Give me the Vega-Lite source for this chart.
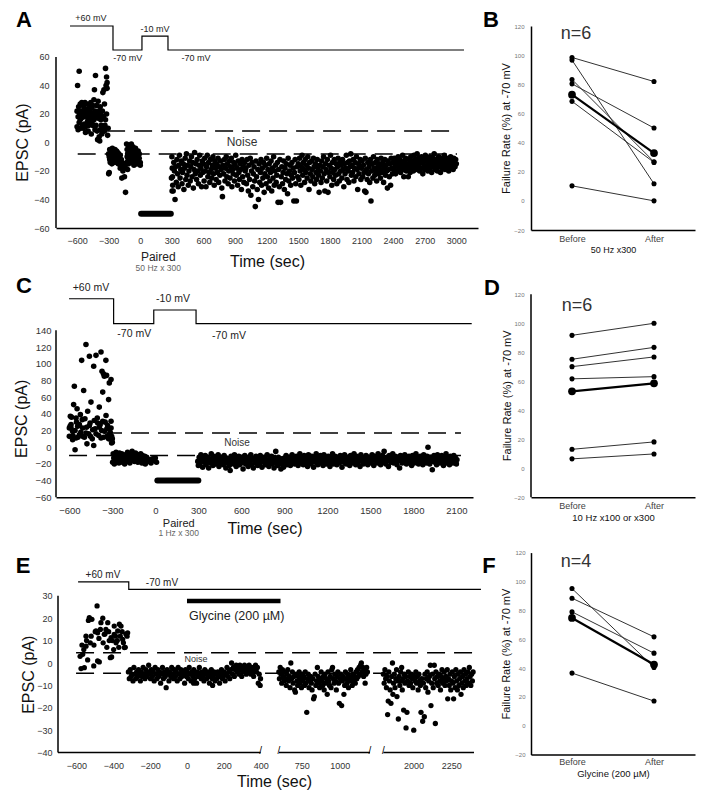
{
"$schema": "https://vega.github.io/schema/vega-lite/v6.json",
"padding": {"left": 13, "top": 8, "right": 4, "bottom": 4},
"background": "white",
"config": {"view": {"stroke": null}, "font": "Liberation Sans",
 "axis": {"grid": false, "ticks": false, "domainColor": "black", "labelColor": "#333", "titleColor": "#111", "titleFontWeight": "normal", "labelFont": "Liberation Sans", "titleFont": "Liberation Sans", "labelOverlap": false, "labelFlush": false},
 "text": {"font": "Liberation Sans"}},
"datasets": {
"ta": [{"i":0,"t":-667,"v":81.75},{"i":1,"t":-259,"v":81.75},{"i":2,"t":-259,"v":64.9},{"i":3,"t":16,"v":64.9},{"i":4,"t":16,"v":74.7},{"i":5,"t":263,"v":74.7},{"i":6,"t":263,"v":64.9},{"i":7,"t":3073,"v":64.9}],
"tc": [{"i":0,"t":-602,"v":177.8},{"i":1,"t":-291,"v":177.8},{"i":2,"t":-291,"v":147.9},{"i":3,"t":-11,"v":147.9},{"i":4,"t":-11,"v":164.3},{"i":5,"t":284,"v":164.3},{"i":6,"t":284,"v":147.9},{"i":7,"t":2207,"v":147.9}],
"te": [{"i":0,"t":-591,"v":36.2},{"i":1,"t":-316,"v":36.2},{"i":2,"t":-316,"v":32.9},{"i":3,"t":2446,"v":32.9}],
"b": [{"c":"c1","g":"cell","k":"Before","v":98.4},{"c":"c1","g":"cell","k":"After","v":81.9},{"c":"c2","g":"cell","k":"Before","v":96.6},{"c":"c2","g":"cell","k":"After","v":11.7},{"c":"c3","g":"cell","k":"Before","v":83.3},{"c":"c3","g":"cell","k":"After","v":26.8},{"c":"c4","g":"cell","k":"Before","v":80.3},{"c":"c4","g":"cell","k":"After","v":50},{"c":"c5","g":"cell","k":"Before","v":68.3},{"c":"c5","g":"cell","k":"After","v":26.4},{"c":"c6","g":"cell","k":"Before","v":10.3},{"c":"c6","g":"cell","k":"After","v":0},{"c":"m","g":"mean","k":"Before","v":72.9},{"c":"m","g":"mean","k":"After","v":32.8}],
"d": [{"c":"c1","g":"cell","k":"Before","v":91.7},{"c":"c1","g":"cell","k":"After","v":100},{"c":"c2","g":"cell","k":"Before","v":75.2},{"c":"c2","g":"cell","k":"After","v":83.4},{"c":"c3","g":"cell","k":"Before","v":70.1},{"c":"c3","g":"cell","k":"After","v":76.8},{"c":"c4","g":"cell","k":"Before","v":61.7},{"c":"c4","g":"cell","k":"After","v":63.2},{"c":"c5","g":"cell","k":"Before","v":13.1},{"c":"c5","g":"cell","k":"After","v":18.2},{"c":"c6","g":"cell","k":"Before","v":6.5},{"c":"c6","g":"cell","k":"After","v":9.9},{"c":"m","g":"mean","k":"Before","v":53.1},{"c":"m","g":"mean","k":"After","v":58.6}],
"f": [{"c":"c1","g":"cell","k":"Before","v":95.1},{"c":"c1","g":"cell","k":"After","v":40.4},{"c":"c2","g":"cell","k":"Before","v":88.4},{"c":"c2","g":"cell","k":"After","v":61.6},{"c":"c3","g":"cell","k":"Before","v":78.9},{"c":"c3","g":"cell","k":"After","v":50.3},{"c":"c4","g":"cell","k":"Before","v":36.5},{"c":"c4","g":"cell","k":"After","v":17.1},{"c":"m","g":"mean","k":"Before","v":74.7},{"c":"m","g":"mean","k":"After","v":42.4}],
"a": [
{"t":-600,"v":11},{"t":-600,"v":22},{"t":-595,"v":40},{"t":-590,"v":9},{"t":-590,"v":18},{"t":-585,"v":25},{"t":-580,"v":50},{"t":-580,"v":14},{"t":-575,"v":20},{"t":-570,"v":16},{"t":-570,"v":27},{"t":-565,"v":10},{"t":-560,"v":22},{"t":-560,"v":17},{"t":-555,"v":28},{"t":-550,"v":12},{"t":-550,"v":19},{"t":-545,"v":26},{"t":-540,"v":10},{"t":-540,"v":21},{"t":-535,"v":18},{"t":-530,"v":24},{"t":-530,"v":13},{"t":-525,"v":28},{"t":-520,"v":11},{"t":-520,"v":7},{"t":-515,"v":20},{"t":-510,"v":27},{"t":-510,"v":12},{"t":-505,"v":23},{"t":-500,"v":15},{"t":-500,"v":18},{"t":-495,"v":8},{"t":-490,"v":12},{"t":-490,"v":22},{"t":-485,"v":17},{"t":-480,"v":25},{"t":-480,"v":14},{"t":-475,"v":19},{"t":-470,"v":21},{"t":-470,"v":28},{"t":-465,"v":6},{"t":-460,"v":18},{"t":-460,"v":24},{"t":-455,"v":15},{"t":-450,"v":26},{"t":-450,"v":12},{"t":-445,"v":20},{"t":-440,"v":16},{"t":-440,"v":30},{"t":-435,"v":37},{"t":-430,"v":22},{"t":-430,"v":9},{"t":-425,"v":47},{"t":-420,"v":12},{"t":-420,"v":19},{"t":-415,"v":26},{"t":-410,"v":18},{"t":-410,"v":8},{"t":-405,"v":2},{"t":-400,"v":29},{"t":-400,"v":17},{"t":-395,"v":22},{"t":-390,"v":21},{"t":-390,"v":4},{"t":-385,"v":1},{"t":-380,"v":25},{"t":-380,"v":9},{"t":-375,"v":16},{"t":-370,"v":19},{"t":-370,"v":12},{"t":-365,"v":6},{"t":-360,"v":22},{"t":-360,"v":10},{"t":-355,"v":35},{"t":-350,"v":10},{"t":-350,"v":18},{"t":-345,"v":37},{"t":-340,"v":27},{"t":-340,"v":8},{"t":-335,"v":12},{"t":-330,"v":52},{"t":-330,"v":16},{"t":-325,"v":40},{"t":-320,"v":46},{"t":-320,"v":20},{"t":-315,"v":38},{"t":-315,"v":42},{"t":-310,"v":5},{"t":-305,"v":10},
{"t":-300,"v":-8},{"t":-300,"v":-22},{"t":-295,"v":-10},{"t":-295,"v":-21},{"t":-290,"v":-5},{"t":-290,"v":-12},{"t":-285,"v":-9},{"t":-285,"v":-14},{"t":-280,"v":-7},{"t":-280,"v":-11},{"t":-275,"v":-12},{"t":-275,"v":-6},{"t":-270,"v":-9},{"t":-270,"v":-15},{"t":-265,"v":-4},{"t":-265,"v":-11},{"t":-260,"v":-13},{"t":-260,"v":-8},{"t":-255,"v":-10},{"t":-255,"v":-6},{"t":-250,"v":-14},{"t":-250,"v":-9},{"t":-245,"v":-7},{"t":-245,"v":-12},{"t":-240,"v":-11},{"t":-240,"v":-5},{"t":-235,"v":-8},{"t":-235,"v":-13},{"t":-230,"v":-12},{"t":-230,"v":-9},{"t":-225,"v":-6},{"t":-225,"v":-10},{"t":-220,"v":-9},{"t":-220,"v":-14},{"t":-215,"v":-11},{"t":-215,"v":-7},{"t":-210,"v":-13},{"t":-210,"v":-15},{"t":-205,"v":-8},{"t":-205,"v":-10},{"t":-200,"v":-10},{"t":-200,"v":-12},{"t":-190,"v":-18},{"t":-190,"v":-9},{"t":-180,"v":-17},{"t":-180,"v":-12},{"t":-175,"v":-25},{"t":-175,"v":-14},{"t":-165,"v":-15},{"t":-165,"v":-20},{"t":-150,"v":-24},{"t":-150,"v":-16},{"t":-140,"v":-35},{"t":-140,"v":-18},{"t":-130,"v":-14},{"t":-130,"v":-1},{"t":-125,"v":-5},{"t":-125,"v":-10},{"t":-120,"v":-19},{"t":-120,"v":-8},{"t":-115,"v":-2},{"t":-115,"v":-12},{"t":-110,"v":-7},{"t":-110,"v":-15},{"t":-105,"v":-11},{"t":-105,"v":-4},{"t":-100,"v":-9},{"t":-100,"v":-13},{"t":-95,"v":-3},{"t":-95,"v":-8},{"t":-90,"v":-12},{"t":-90,"v":-6},{"t":-85,"v":-1},{"t":-85,"v":-10},{"t":-80,"v":-8},{"t":-80,"v":-14},{"t":-75,"v":-5},{"t":-75,"v":-9},{"t":-70,"v":-13},{"t":-70,"v":-3},{"t":-65,"v":-10},{"t":-65,"v":-7},{"t":-60,"v":-16},{"t":-60,"v":-11},{"t":-55,"v":-6},{"t":-55,"v":-9},{"t":-50,"v":-12},{"t":-50,"v":-14},{"t":-45,"v":-8},{"t":-45,"v":-4},{"t":-40,"v":-11},{"t":-40,"v":-15},{"t":-35,"v":-7},{"t":-35,"v":-10},{"t":-30,"v":-13},{"t":-30,"v":-9},{"t":-25,"v":-9},{"t":-25,"v":-12},{"t":-20,"v":-15},{"t":-20,"v":-6},{"t":-10,"v":-8},{"t":-10,"v":-11},{"t":0,"v":-14},{"t":0,"v":-16},
{"t":296,"v":-25},{"t":302,"v":-34},{"t":304,"v":-18},{"t":308,"v":-30},
{"t":300,"v":-10},{"t":306,"v":-24},{"t":312,"v":-34},{"t":318,"v":-14},{"t":324,"v":-20},{"t":330,"v":-40},{"t":336,"v":-17},{"t":342,"v":-28},{"t":348,"v":-12},{"t":354,"v":-22},{"t":360,"v":-31},{"t":366,"v":-16},{"t":372,"v":-9},{"t":378,"v":-25},{"t":384,"v":-19},{"t":390,"v":-13},{"t":396,"v":-29},{"t":402,"v":-21},{"t":408,"v":-15},{"t":414,"v":-33},{"t":420,"v":-18},{"t":426,"v":-11},{"t":432,"v":-26},{"t":438,"v":-8},{"t":444,"v":-23},{"t":450,"v":-16},{"t":456,"v":-30},{"t":462,"v":-20},{"t":468,"v":-13},{"t":474,"v":-27},{"t":480,"v":-17},{"t":486,"v":-10},{"t":492,"v":-24},{"t":498,"v":-14},{"t":504,"v":-32},{"t":510,"v":-19},{"t":516,"v":-7},{"t":522,"v":-22},{"t":528,"v":-15},{"t":534,"v":-26},{"t":540,"v":-12},{"t":546,"v":-20},{"t":552,"v":-29},{"t":558,"v":-16},{"t":564,"v":-9},{"t":570,"v":-23},{"t":576,"v":-18},{"t":582,"v":-31},{"t":588,"v":-13},{"t":594,"v":-21},
{"t":600,"v":-15},{"t":606,"v":-27},{"t":612,"v":-11},{"t":618,"v":-20},{"t":624,"v":-31},{"t":630,"v":-17},{"t":636,"v":-9},{"t":642,"v":-24},{"t":648,"v":-14},{"t":654,"v":-21},{"t":660,"v":-28},{"t":666,"v":-12},{"t":672,"v":-19},{"t":678,"v":-25},{"t":684,"v":-16},{"t":690,"v":-10},{"t":696,"v":-22},{"t":702,"v":-30},{"t":708,"v":-13},{"t":714,"v":-18},{"t":720,"v":-26},{"t":726,"v":-15},{"t":732,"v":-21},{"t":738,"v":-11},{"t":744,"v":-28},{"t":750,"v":-17},{"t":756,"v":-23},{"t":762,"v":-13},{"t":768,"v":-19},{"t":774,"v":-32},{"t":780,"v":-38},{"t":786,"v":-16},{"t":792,"v":-22},{"t":798,"v":-12},{"t":804,"v":-27},{"t":810,"v":-18},{"t":816,"v":-10},{"t":822,"v":-24},{"t":828,"v":-15},{"t":834,"v":-29},{"t":840,"v":-20},{"t":846,"v":-13},{"t":852,"v":-25},{"t":858,"v":-17},{"t":864,"v":-11},{"t":870,"v":-31},{"t":876,"v":-19},{"t":882,"v":-22},{"t":888,"v":-14},{"t":894,"v":-27},{"t":900,"v":-16},{"t":906,"v":-9},{"t":912,"v":-23},{"t":918,"v":-18},{"t":924,"v":-30},{"t":930,"v":-13},{"t":936,"v":-21},{"t":942,"v":-26},{"t":948,"v":-15},{"t":954,"v":-19},{"t":960,"v":-33},{"t":966,"v":-12},{"t":972,"v":-24},{"t":978,"v":-17},{"t":984,"v":-28},{"t":990,"v":-14},{"t":996,"v":-20},
{"t":1002,"v":-18},{"t":1008,"v":-29},{"t":1014,"v":-12},{"t":1020,"v":-23},{"t":1026,"v":-34},{"t":1032,"v":-16},{"t":1038,"v":-26},{"t":1044,"v":-11},{"t":1050,"v":-37},{"t":1056,"v":-20},{"t":1062,"v":-14},{"t":1068,"v":-31},{"t":1074,"v":-22},{"t":1080,"v":-17},{"t":1086,"v":-27},{"t":1092,"v":-45},{"t":1098,"v":-13},{"t":1104,"v":-24},{"t":1110,"v":-33},{"t":1116,"v":-19},{"t":1122,"v":-40},{"t":1128,"v":-15},{"t":1134,"v":-28},{"t":1140,"v":-21},{"t":1146,"v":-12},{"t":1152,"v":-30},{"t":1158,"v":-18},{"t":1164,"v":-25},{"t":1170,"v":-14},{"t":1176,"v":-35},{"t":1182,"v":-22},{"t":1188,"v":-16},{"t":1194,"v":-29},{"t":1200,"v":-11},{"t":1206,"v":-24},{"t":1212,"v":-19},{"t":1218,"v":-32},{"t":1224,"v":-15},{"t":1230,"v":-27},{"t":1236,"v":-21},{"t":1242,"v":-13},{"t":1248,"v":-34},{"t":1254,"v":-18},{"t":1260,"v":-25},{"t":1266,"v":-10},{"t":1272,"v":-30},{"t":1278,"v":-20},{"t":1284,"v":-16},{"t":1290,"v":-28},{"t":1296,"v":-23},{"t":1302,"v":-14},{"t":1308,"v":-42},{"t":1314,"v":-19},{"t":1320,"v":-31},{"t":1326,"v":-12},{"t":1332,"v":-42},{"t":1338,"v":-24},{"t":1344,"v":-17},{"t":1350,"v":-29},{"t":1356,"v":-21},{"t":1362,"v":-13},{"t":1368,"v":-33},{"t":1374,"v":-18},{"t":1380,"v":-26},{"t":1386,"v":-15},{"t":1392,"v":-22},{"t":1398,"v":-36},{"t":1404,"v":-11},{"t":1410,"v":-27},{"t":1416,"v":-20},{"t":1422,"v":-16},{"t":1428,"v":-30},{"t":1434,"v":-23},{"t":1440,"v":-14},{"t":1446,"v":-25},{"t":1452,"v":-18},{"t":1458,"v":-41},{"t":1464,"v":-21},{"t":1470,"v":-12},{"t":1476,"v":-29},{"t":1482,"v":-41},{"t":1488,"v":-17},{"t":1494,"v":-24},
{"t":1500,"v":-15},{"t":1506,"v":-26},{"t":1512,"v":-11},{"t":1518,"v":-20},{"t":1524,"v":-30},{"t":1530,"v":-17},{"t":1536,"v":-9},{"t":1542,"v":-23},{"t":1548,"v":-14},{"t":1554,"v":-19},{"t":1560,"v":-28},{"t":1566,"v":-12},{"t":1572,"v":-21},{"t":1578,"v":-16},{"t":1584,"v":-25},{"t":1590,"v":-10},{"t":1596,"v":-18},{"t":1602,"v":-33},{"t":1608,"v":-14},{"t":1614,"v":-22},{"t":1620,"v":-27},{"t":1626,"v":-13},{"t":1632,"v":-19},{"t":1638,"v":-24},{"t":1644,"v":-11},{"t":1650,"v":-17},{"t":1656,"v":-29},{"t":1662,"v":-15},{"t":1668,"v":-21},{"t":1674,"v":-26},{"t":1680,"v":-12},{"t":1686,"v":-18},{"t":1692,"v":-23},{"t":1698,"v":-35},{"t":1704,"v":-16},{"t":1710,"v":-20},{"t":1716,"v":-28},{"t":1722,"v":-13},{"t":1728,"v":-25},{"t":1734,"v":-17},{"t":1740,"v":-10},{"t":1746,"v":-22},{"t":1752,"v":-34},{"t":1758,"v":-15},{"t":1764,"v":-19},{"t":1770,"v":-27},{"t":1776,"v":-12},{"t":1782,"v":-35},{"t":1788,"v":-21},{"t":1794,"v":-16},{"t":1800,"v":-24},{"t":1806,"v":-9},{"t":1812,"v":-18},{"t":1818,"v":-30},{"t":1824,"v":-14},{"t":1830,"v":-21},{"t":1836,"v":-26},{"t":1842,"v":-12},{"t":1848,"v":-19},{"t":1854,"v":-23},{"t":1860,"v":-15},{"t":1866,"v":-29},{"t":1872,"v":-17},{"t":1878,"v":-11},{"t":1884,"v":-22},{"t":1890,"v":-27},{"t":1896,"v":-14},{"t":1902,"v":-20},{"t":1908,"v":-16},{"t":1914,"v":-25},{"t":1920,"v":-12},{"t":1926,"v":-19},{"t":1932,"v":-31},{"t":1938,"v":-15},{"t":1944,"v":-22},{"t":1950,"v":-18},{"t":1956,"v":-9},{"t":1962,"v":-26},{"t":1968,"v":-14},{"t":1974,"v":-20},{"t":1980,"v":-28},{"t":1986,"v":-13},{"t":1992,"v":-17},{"t":1998,"v":-8},{"t":2004,"v":-23},{"t":2010,"v":-16},{"t":2016,"v":-21},{"t":2022,"v":-12},{"t":2028,"v":-27},{"t":2034,"v":-18},{"t":2040,"v":-14},{"t":2046,"v":-24},{"t":2052,"v":-10},{"t":2058,"v":-19},{"t":2064,"v":-33},{"t":2070,"v":-15},{"t":2076,"v":-22},{"t":2082,"v":-17},{"t":2088,"v":-12},{"t":2094,"v":-26},
{"t":2100,"v":-18},{"t":2106,"v":-13},{"t":2112,"v":-24},{"t":2118,"v":-16},{"t":2124,"v":-21},{"t":2130,"v":-34},{"t":2136,"v":-11},{"t":2142,"v":-35},{"t":2148,"v":-19},{"t":2154,"v":-26},{"t":2160,"v":-14},{"t":2166,"v":-22},{"t":2172,"v":-17},{"t":2178,"v":-28},{"t":2184,"v":-12},{"t":2190,"v":-41},{"t":2196,"v":-20},{"t":2202,"v":-15},{"t":2208,"v":-25},{"t":2214,"v":-10},{"t":2220,"v":-18},{"t":2226,"v":-23},{"t":2232,"v":-14},{"t":2238,"v":-20},{"t":2244,"v":-27},{"t":2250,"v":-12},{"t":2256,"v":-17},{"t":2262,"v":-22},{"t":2268,"v":-15},{"t":2274,"v":-19},{"t":2280,"v":-25},{"t":2286,"v":-11},{"t":2292,"v":-16},{"t":2298,"v":-21},{"t":2304,"v":-14},{"t":2310,"v":-28},{"t":2316,"v":-18},{"t":2322,"v":-12},{"t":2328,"v":-23},{"t":2334,"v":-16},{"t":2340,"v":-20},{"t":2346,"v":-32},{"t":2352,"v":-13},{"t":2358,"v":-19},{"t":2364,"v":-24},{"t":2370,"v":-15},{"t":2376,"v":-30},{"t":2382,"v":-11},{"t":2388,"v":-18},{"t":2394,"v":-22},
{"t":2400,"v":-14},{"t":2406,"v":-19},{"t":2412,"v":-11},{"t":2418,"v":-17},{"t":2424,"v":-22},{"t":2430,"v":-13},{"t":2436,"v":-16},{"t":2442,"v":-20},{"t":2448,"v":-10},{"t":2454,"v":-15},{"t":2460,"v":-18},{"t":2466,"v":-12},{"t":2472,"v":-21},{"t":2478,"v":-14},{"t":2484,"v":-17},{"t":2490,"v":-9},{"t":2496,"v":-19},{"t":2502,"v":-24},{"t":2508,"v":-13},{"t":2514,"v":-16},{"t":2520,"v":-11},{"t":2526,"v":-20},{"t":2532,"v":-15},{"t":2538,"v":-18},{"t":2544,"v":-24},{"t":2550,"v":-12},{"t":2556,"v":-16},{"t":2562,"v":-21},{"t":2568,"v":-10},{"t":2574,"v":-14},{"t":2580,"v":-18},{"t":2586,"v":-13},{"t":2592,"v":-20},{"t":2598,"v":-9},{"t":2604,"v":-16},{"t":2610,"v":-12},{"t":2616,"v":-19},{"t":2622,"v":-14},{"t":2628,"v":-8},{"t":2634,"v":-17},{"t":2640,"v":-11},{"t":2646,"v":-15},{"t":2652,"v":-20},{"t":2658,"v":-13},{"t":2664,"v":-18},{"t":2670,"v":-10},{"t":2676,"v":-14},{"t":2682,"v":-22},{"t":2688,"v":-12},{"t":2694,"v":-16},{"t":2700,"v":-19},{"t":2706,"v":-9},{"t":2712,"v":-13},{"t":2718,"v":-17},{"t":2724,"v":-11},{"t":2730,"v":-20},{"t":2736,"v":-14},{"t":2742,"v":-16},{"t":2748,"v":-10},{"t":2754,"v":-18},{"t":2760,"v":-13},{"t":2766,"v":-21},{"t":2772,"v":-15},{"t":2778,"v":-11},{"t":2784,"v":-17},{"t":2790,"v":-8},{"t":2796,"v":-14},{"t":2802,"v":-19},{"t":2808,"v":-12},{"t":2814,"v":-16},{"t":2820,"v":-20},{"t":2826,"v":-13},{"t":2832,"v":-10},{"t":2838,"v":-17},{"t":2844,"v":-15},{"t":2850,"v":-21},{"t":2856,"v":-11},{"t":2862,"v":-14},{"t":2868,"v":-18},{"t":2874,"v":-12},{"t":2880,"v":-16},{"t":2886,"v":-9},{"t":2892,"v":-19},{"t":2898,"v":-13},{"t":2904,"v":-15},{"t":2910,"v":-11},{"t":2916,"v":-17},{"t":2922,"v":-14},{"t":2928,"v":-20},{"t":2934,"v":-12},{"t":2940,"v":-16},{"t":2946,"v":-10},{"t":2952,"v":-18},{"t":2958,"v":-13},{"t":2964,"v":-15},{"t":2970,"v":-19},{"t":2976,"v":-11},{"t":2982,"v":-14},{"t":2988,"v":-17},{"t":2994,"v":-12},{"t":3000,"v":-15}
],
"c": [
{"t":-484,"v":123},{"t":-514,"v":104},{"t":-460,"v":109},{"t":-414,"v":110},{"t":-379,"v":114},{"t":-430,"v":97},{"t":-372,"v":91},{"t":-356,"v":85},{"t":-309,"v":81},{"t":-321,"v":77},{"t":-340,"v":86},{"t":-362,"v":88},{"t":-345,"v":104},{"t":-565,"v":73},{"t":-500,"v":68},{"t":-367,"v":66},{"t":-326,"v":57},{"t":-570,"v":51},{"t":-546,"v":46},{"t":-449,"v":54},{"t":-391,"v":48},{"t":-472,"v":43},{"t":-344,"v":38},{"t":-593,"v":37},{"t":-553,"v":35},{"t":-523,"v":39},{"t":-491,"v":34},{"t":-426,"v":32},{"t":-402,"v":29},{"t":-367,"v":31},{"t":-333,"v":26},{"t":-309,"v":23},{"t":-588,"v":27},{"t":-542,"v":25},{"t":-507,"v":23},{"t":-460,"v":26},{"t":-437,"v":21},{"t":-391,"v":24},{"t":-356,"v":19},{"t":-321,"v":15},{"t":-577,"v":19},{"t":-530,"v":15},{"t":-484,"v":17},{"t":-453,"v":13},{"t":-414,"v":16},{"t":-379,"v":11},{"t":-337,"v":13},{"t":-600,"v":13},{"t":-553,"v":11},{"t":-507,"v":13},{"t":-588,"v":23},{"t":-577,"v":9},{"t":-560,"v":-3},{"t":-477,"v":4},{"t":-430,"v":2},{"t":-309,"v":31},{"t":-305,"v":13},{"t":-300,"v":10},{"t":-600,"v":23},{"t":-595,"v":25},{"t":-585,"v":36},{"t":-575,"v":14},{"t":-560,"v":20},{"t":-550,"v":30},{"t":-540,"v":12},{"t":-530,"v":27},{"t":-520,"v":18},{"t":-510,"v":33},{"t":-495,"v":12},{"t":-480,"v":24},{"t":-465,"v":16},{"t":-455,"v":29},{"t":-440,"v":10},{"t":-420,"v":22},{"t":-405,"v":35},{"t":-395,"v":14},{"t":-385,"v":27},{"t":-375,"v":20},{"t":-360,"v":12},{"t":-350,"v":30},{"t":-338,"v":22},{"t":-326,"v":10},{"t":-315,"v":18},{"t":-305,"v":5},{"t":-300,"v":6},
{"t":-298,"v":-18},{"t":-294,"v":-8},{"t":-290,"v":-13},{"t":-286,"v":-20},{"t":-282,"v":-10},{"t":-278,"v":-15},{"t":-274,"v":-6},{"t":-270,"v":-12},{"t":-266,"v":-17},{"t":-262,"v":-9},{"t":-258,"v":-14},{"t":-254,"v":-19},{"t":-250,"v":-7},{"t":-246,"v":-11},{"t":-242,"v":-16},{"t":-238,"v":-13},{"t":-234,"v":-8},{"t":-230,"v":-18},{"t":-226,"v":-10},{"t":-222,"v":-15},{"t":-218,"v":-12},{"t":-214,"v":-20},{"t":-210,"v":-9},{"t":-206,"v":-14},{"t":-202,"v":-11},{"t":-198,"v":-17},{"t":-194,"v":-6},{"t":-190,"v":-13},{"t":-186,"v":-16},{"t":-182,"v":-10},{"t":-178,"v":-19},{"t":-174,"v":-8},{"t":-170,"v":-12},{"t":-166,"v":-15},{"t":-162,"v":-5},{"t":-158,"v":-11},{"t":-154,"v":-14},{"t":-150,"v":-9},{"t":-146,"v":-17},{"t":-142,"v":-12},{"t":-138,"v":-7},{"t":-134,"v":-15},{"t":-130,"v":-10},{"t":-126,"v":-13},{"t":-122,"v":-18},{"t":-118,"v":-9},{"t":-114,"v":-11},{"t":-110,"v":-16},{"t":-106,"v":-14},{"t":-102,"v":-8},{"t":-98,"v":-12},{"t":-94,"v":-19},{"t":-90,"v":-10},{"t":-86,"v":-15},{"t":-82,"v":-13},{"t":-78,"v":-17},{"t":-74,"v":-11},{"t":-70,"v":-20},{"t":-66,"v":-14},{"t":-60,"v":-12},{"t":-50,"v":-17},{"t":-40,"v":-15},{"t":-30,"v":-19},{"t":-20,"v":-14},{"t":-10,"v":-16},{"t":0,"v":-13},{"t":8,"v":-18},
{"t":296,"v":-17},{"t":300,"v":-22},{"t":306,"v":-12},{"t":312,"v":-19},{"t":318,"v":-9},{"t":324,"v":-15},{"t":330,"v":-24},{"t":336,"v":-13},{"t":342,"v":-18},{"t":348,"v":-10},{"t":354,"v":-21},{"t":360,"v":-16},{"t":366,"v":-12},{"t":372,"v":-25},{"t":378,"v":-14},{"t":384,"v":-19},{"t":390,"v":-8},{"t":396,"v":-17},{"t":402,"v":-22},{"t":408,"v":-11},{"t":414,"v":-15},{"t":420,"v":-20},{"t":426,"v":-13},{"t":432,"v":-18},{"t":438,"v":-9},{"t":444,"v":-23},{"t":450,"v":-16},{"t":456,"v":-12},{"t":462,"v":-19},{"t":468,"v":-14},{"t":474,"v":-21},{"t":480,"v":-10},{"t":486,"v":-17},{"t":492,"v":-25},{"t":498,"v":-13},{"t":504,"v":-19},{"t":510,"v":-15},{"t":516,"v":-22},{"t":522,"v":-28},{"t":528,"v":-11},{"t":534,"v":-18},{"t":540,"v":-14},{"t":546,"v":-20},{"t":552,"v":-9},{"t":558,"v":-16},{"t":564,"v":-23},{"t":570,"v":-13},{"t":576,"v":-18},{"t":582,"v":-11},{"t":588,"v":-21},{"t":594,"v":-15},{"t":600,"v":-19},{"t":606,"v":-12},{"t":612,"v":-26},{"t":618,"v":-16},{"t":624,"v":-10},{"t":630,"v":-20},{"t":636,"v":-14},{"t":642,"v":-18},{"t":648,"v":-23},{"t":654,"v":-12},{"t":660,"v":-17},{"t":666,"v":-9},{"t":672,"v":-21},{"t":678,"v":-15},{"t":684,"v":-25},{"t":690,"v":-13},{"t":696,"v":-19},{"t":702,"v":-11},{"t":708,"v":-17},{"t":714,"v":-22},{"t":720,"v":-14},{"t":726,"v":-20},{"t":732,"v":-10},{"t":738,"v":-16},{"t":744,"v":-24},{"t":750,"v":-13},{"t":756,"v":-18},{"t":762,"v":-12},{"t":768,"v":-21},{"t":774,"v":-15},{"t":780,"v":-9},{"t":786,"v":-19},{"t":792,"v":-23},{"t":798,"v":-14},{"t":804,"v":-17},{"t":810,"v":-11},{"t":816,"v":-20},{"t":822,"v":-16},{"t":828,"v":-25},{"t":834,"v":-13},{"t":840,"v":-5},{"t":846,"v":-18},{"t":852,"v":-22},{"t":858,"v":-12},{"t":864,"v":-16},{"t":870,"v":-20},{"t":876,"v":-26},{"t":882,"v":-14},{"t":888,"v":-19},{"t":894,"v":-24},{"t":900,"v":-13},{"t":906,"v":-17},{"t":912,"v":-10},{"t":918,"v":-21},{"t":924,"v":-15},{"t":930,"v":-19},{"t":936,"v":-12},{"t":942,"v":-22},{"t":948,"v":-16},{"t":954,"v":-9},{"t":960,"v":-18},{"t":966,"v":-13},{"t":972,"v":-20},{"t":978,"v":-15},{"t":984,"v":-11},{"t":990,"v":-17},{"t":996,"v":-22},{"t":1002,"v":-14},{"t":1008,"v":-8},{"t":1014,"v":-19},{"t":1020,"v":-12},{"t":1026,"v":-16},{"t":1032,"v":-21},{"t":1038,"v":-10},{"t":1044,"v":-15},{"t":1050,"v":-18},{"t":1056,"v":-13},{"t":1062,"v":-23},{"t":1068,"v":-9},{"t":1074,"v":-17},{"t":1080,"v":-14},{"t":1086,"v":-20},{"t":1092,"v":-11},{"t":1098,"v":-16},{"t":1104,"v":-24},{"t":1110,"v":-13},{"t":1116,"v":-18},{"t":1122,"v":-8},{"t":1128,"v":-15},{"t":1134,"v":-21},{"t":1140,"v":-12},{"t":1146,"v":-17},{"t":1152,"v":-10},{"t":1158,"v":-19},{"t":1164,"v":-14},{"t":1170,"v":-22},{"t":1176,"v":-9},{"t":1182,"v":-16},{"t":1188,"v":-12},{"t":1194,"v":-20},{"t":1200,"v":-15},{"t":1206,"v":-11},{"t":1212,"v":-18},{"t":1218,"v":-23},{"t":1224,"v":-13},{"t":1230,"v":-16},{"t":1236,"v":-8},{"t":1242,"v":-20},{"t":1248,"v":-14},{"t":1254,"v":-11},{"t":1260,"v":-17},{"t":1266,"v":-21},{"t":1272,"v":-12},{"t":1278,"v":-15},{"t":1284,"v":-19},{"t":1290,"v":-10},{"t":1296,"v":-16},{"t":1302,"v":-24},{"t":1308,"v":-13},{"t":1314,"v":-18},{"t":1320,"v":-9},{"t":1326,"v":-15},{"t":1332,"v":-20},{"t":1338,"v":-12},{"t":1344,"v":-17},{"t":1350,"v":-14},{"t":1356,"v":-22},{"t":1362,"v":-10},{"t":1368,"v":-16},{"t":1374,"v":-19},{"t":1380,"v":-13},{"t":1386,"v":-8},{"t":1392,"v":-17},{"t":1398,"v":-21},{"t":1404,"v":-11},{"t":1410,"v":-15},{"t":1416,"v":-18},{"t":1422,"v":-13},{"t":1428,"v":-23},{"t":1434,"v":-9},{"t":1440,"v":-16},{"t":1446,"v":-12},{"t":1452,"v":-20},{"t":1458,"v":-14},{"t":1464,"v":-18},{"t":1470,"v":-10},{"t":1476,"v":-15},{"t":1482,"v":-21},{"t":1488,"v":-12},{"t":1494,"v":-17},{"t":1500,"v":-13},{"t":1506,"v":-19},{"t":1512,"v":-9},{"t":1518,"v":-15},{"t":1524,"v":-22},{"t":1530,"v":-11},{"t":1536,"v":-16},{"t":1542,"v":-14},{"t":1548,"v":-19},{"t":1554,"v":-8},{"t":1560,"v":-17},{"t":1566,"v":-12},{"t":1572,"v":-21},{"t":1578,"v":-15},{"t":1584,"v":-10},{"t":1590,"v":-18},{"t":1596,"v":-5},{"t":1602,"v":-14},{"t":1608,"v":-20},{"t":1614,"v":-12},{"t":1620,"v":-16},{"t":1626,"v":-23},{"t":1632,"v":-10},{"t":1638,"v":-15},{"t":1644,"v":-18},{"t":1650,"v":-13},{"t":1656,"v":-8},{"t":1662,"v":-19},{"t":1668,"v":-14},{"t":1674,"v":-11},{"t":1680,"v":-17},{"t":1686,"v":-21},{"t":1692,"v":-12},{"t":1698,"v":-16},{"t":1704,"v":-25},{"t":1710,"v":-10},{"t":1716,"v":-14},{"t":1722,"v":-19},{"t":1728,"v":-13},{"t":1734,"v":-17},{"t":1740,"v":-9},{"t":1746,"v":-15},{"t":1752,"v":-20},{"t":1758,"v":-12},{"t":1764,"v":-16},{"t":1770,"v":-11},{"t":1776,"v":-18},{"t":1782,"v":-14},{"t":1788,"v":-22},{"t":1794,"v":-10},{"t":1800,"v":-15},{"t":1806,"v":-19},{"t":1812,"v":-13},{"t":1818,"v":-8},{"t":1824,"v":-17},{"t":1830,"v":-12},{"t":1836,"v":-20},{"t":1842,"v":-15},{"t":1848,"v":-11},{"t":1854,"v":-18},{"t":1860,"v":-14},{"t":1866,"v":-21},{"t":1872,"v":-9},{"t":1878,"v":-16},{"t":1884,"v":-13},{"t":1890,"v":-19},{"t":1896,"v":-11},{"t":1902,"v":0},{"t":1908,"v":-15},{"t":1914,"v":-20},{"t":1920,"v":-12},{"t":1926,"v":-17},{"t":1932,"v":-27},{"t":1938,"v":-14},{"t":1944,"v":-10},{"t":1950,"v":-18},{"t":1956,"v":-13},{"t":1962,"v":-21},{"t":1968,"v":-9},{"t":1974,"v":-16},{"t":1980,"v":-12},{"t":1986,"v":-19},{"t":1992,"v":-14},{"t":1998,"v":-10},{"t":2004,"v":-17},{"t":2010,"v":-22},{"t":2016,"v":-13},{"t":2022,"v":-16},{"t":2028,"v":-8},{"t":2034,"v":-19},{"t":2040,"v":-12},{"t":2046,"v":-15},{"t":2052,"v":-21},{"t":2058,"v":-11},{"t":2064,"v":-17},{"t":2070,"v":-14},{"t":2076,"v":-19},{"t":2082,"v":-10},{"t":2088,"v":-16},{"t":2094,"v":-13},{"t":2100,"v":-20},{"t":2104,"v":-15}
],
"e": [
{"t":-488,"v":25.5},{"t":-530,"v":20.3},{"t":-516,"v":19.5},{"t":-457,"v":20},{"t":-467,"v":18},{"t":-367,"v":17.3},{"t":-358,"v":16.5},{"t":-440,"v":15},{"t":-494,"v":14.3},{"t":-485,"v":13.5},{"t":-548,"v":12},{"t":-395,"v":12.8},{"t":-412,"v":11.3},{"t":-331,"v":12.8},{"t":-322,"v":13.5},{"t":-349,"v":10.5},{"t":-548,"v":7.5},{"t":-525,"v":9},{"t":-422,"v":10},{"t":-385,"v":9},{"t":-340,"v":6.9},{"t":-566,"v":3.9},{"t":-539,"v":1.4},{"t":-485,"v":0.9},{"t":-416,"v":2.4},{"t":-409,"v":2.7},{"t":-557,"v":-2.1},{"t":-506,"v":-1.3},{"t":-476,"v":0.5},{"t":-575,"v":-2.5},{"t":-449,"v":12.8},{"t":-395,"v":16.5},{"t":-376,"v":14.3},{"t":-430,"v":18},{"t":-580,"v":3},{"t":-570,"v":8},{"t":-560,"v":6},{"t":-545,"v":10},{"t":-535,"v":19},{"t":-520,"v":12},{"t":-505,"v":8},{"t":-498,"v":14},{"t":-478,"v":11},{"t":-470,"v":15},{"t":-455,"v":9},{"t":-445,"v":13},{"t":-435,"v":7},{"t":-425,"v":14},{"t":-405,"v":10},{"t":-398,"v":6},{"t":-388,"v":12},{"t":-378,"v":10},{"t":-370,"v":7},{"t":-362,"v":12},{"t":-352,"v":14},{"t":-345,"v":9},{"t":-335,"v":7},{"t":-328,"v":13},{"t":-325,"v":12},
{"t":-318,"v":-4},{"t":-313,"v":-7},{"t":-308,"v":-3},{"t":-303,"v":-6},{"t":-298,"v":-5},{"t":-293,"v":-8},{"t":-288,"v":-2},{"t":-283,"v":-5},{"t":-278,"v":-7},{"t":-273,"v":-4},{"t":-268,"v":-6},{"t":-263,"v":-3},{"t":-258,"v":-5},{"t":-253,"v":-8},{"t":-248,"v":-4},{"t":-243,"v":-6},{"t":-238,"v":-2},{"t":-233,"v":-5},{"t":-228,"v":-7},{"t":-223,"v":-3},{"t":-218,"v":-6},{"t":-213,"v":-4},{"t":-208,"v":-1},{"t":-203,"v":-5},{"t":-198,"v":-7},{"t":-193,"v":-3},{"t":-188,"v":-6},{"t":-183,"v":-4},{"t":-178,"v":-8},{"t":-173,"v":-2},{"t":-168,"v":-5},{"t":-163,"v":-7},{"t":-158,"v":-3},{"t":-153,"v":-6},{"t":-148,"v":-4},{"t":-143,"v":-9},{"t":-138,"v":-5},{"t":-133,"v":-2},{"t":-128,"v":-7},{"t":-123,"v":-4},{"t":-118,"v":-6},{"t":-113,"v":-11},{"t":-108,"v":-3},{"t":-103,"v":-5},{"t":-98,"v":-8},{"t":-93,"v":-4},{"t":-88,"v":-6},{"t":-83,"v":-2},{"t":-78,"v":-5},{"t":-73,"v":-7},{"t":-68,"v":-3},{"t":-63,"v":-6},{"t":-58,"v":-4},{"t":-53,"v":-8},{"t":-48,"v":-2},{"t":-43,"v":-5},{"t":-38,"v":-7},{"t":-33,"v":-3},{"t":-28,"v":-6},{"t":-23,"v":-4},{"t":-18,"v":-5},{"t":-13,"v":-9},{"t":-8,"v":-3},{"t":-3,"v":-6},{"t":2,"v":-4},{"t":7,"v":-7},{"t":12,"v":-2},{"t":17,"v":-5},{"t":22,"v":-8},{"t":27,"v":-4},{"t":32,"v":-6},{"t":36,"v":-9},{"t":37,"v":-3},{"t":42,"v":-7},{"t":47,"v":-5},{"t":52,"v":-9},{"t":57,"v":-4},{"t":62,"v":-6},{"t":67,"v":-2},{"t":72,"v":-5},{"t":77,"v":-7},{"t":82,"v":-4},{"t":87,"v":-6},{"t":92,"v":-8},{"t":97,"v":-3},{"t":102,"v":-5},{"t":107,"v":-7},{"t":112,"v":-4},{"t":117,"v":-6},{"t":122,"v":-9},{"t":127,"v":-5},{"t":132,"v":-3},{"t":137,"v":-7},{"t":139,"v":-10},{"t":142,"v":-6},{"t":147,"v":-4},{"t":152,"v":-8},{"t":157,"v":-5},{"t":162,"v":-7},{"t":167,"v":-4},{"t":172,"v":-6},{"t":177,"v":-9},{"t":182,"v":-5},{"t":187,"v":-3},{"t":192,"v":-7},{"t":197,"v":-6},{"t":202,"v":-4},{"t":207,"v":-8},{"t":212,"v":-5},{"t":217,"v":-2},{"t":222,"v":-6},{"t":227,"v":-4},{"t":232,"v":-7},{"t":237,"v":-3},{"t":242,"v":0},{"t":247,"v":-5},{"t":252,"v":-2},{"t":257,"v":-6},{"t":262,"v":-3},{"t":267,"v":-1},{"t":272,"v":-4},{"t":277,"v":-2},{"t":282,"v":-5},{"t":287,"v":-1},{"t":292,"v":-3},{"t":297,"v":-6},{"t":302,"v":-2},{"t":307,"v":-4},{"t":312,"v":-1},{"t":317,"v":-3},{"t":322,"v":-5},{"t":327,"v":-2},{"t":332,"v":-4},{"t":337,"v":-1},{"t":342,"v":-3},{"t":347,"v":-5},{"t":352,"v":-2},{"t":357,"v":-4},{"t":362,"v":-6},{"t":367,"v":-3},{"t":372,"v":-1},{"t":377,"v":-4},{"t":382,"v":-2},{"t":387,"v":-9},{"t":392,"v":-5},{"t":397,"v":-10},{"t":399,"v":-7},
{"t":598,"v":-4},{"t":603,"v":-7},{"t":608,"v":-2},{"t":613,"v":-5},{"t":618,"v":-9},{"t":623,"v":-3},{"t":628,"v":-6},{"t":633,"v":-8},{"t":638,"v":-4},{"t":643,"v":-7},{"t":648,"v":-10},{"t":653,"v":-5},{"t":658,"v":-3},{"t":663,"v":-8},{"t":668,"v":-6},{"t":673,"v":-11},{"t":678,"v":0},{"t":683,"v":-7},{"t":688,"v":-4},{"t":693,"v":-9},{"t":698,"v":-6},{"t":703,"v":-12},{"t":708,"v":-13},{"t":713,"v":-5},{"t":718,"v":-8},{"t":723,"v":-10},{"t":728,"v":-6},{"t":733,"v":-4},{"t":738,"v":-9},{"t":743,"v":-7},{"t":748,"v":-11},{"t":753,"v":-5},{"t":758,"v":-8},{"t":763,"v":-6},{"t":768,"v":-10},{"t":773,"v":-4},{"t":778,"v":-9},{"t":783,"v":-22},{"t":788,"v":-7},{"t":793,"v":-5},{"t":798,"v":-11},{"t":803,"v":-8},{"t":808,"v":-6},{"t":813,"v":-9},{"t":818,"v":-12},{"t":823,"v":-7},{"t":828,"v":-16},{"t":833,"v":-15},{"t":838,"v":-5},{"t":843,"v":-10},{"t":848,"v":-8},{"t":853,"v":-2},{"t":858,"v":-6},{"t":863,"v":-9},{"t":868,"v":-11},{"t":873,"v":-7},{"t":878,"v":-4},{"t":883,"v":-8},{"t":888,"v":-10},{"t":893,"v":-6},{"t":898,"v":-12},{"t":903,"v":-5},{"t":908,"v":-9},{"t":913,"v":-7},{"t":918,"v":-14},{"t":923,"v":-4},{"t":928,"v":-8},{"t":933,"v":-10},{"t":938,"v":-6},{"t":943,"v":-11},{"t":948,"v":-3},{"t":953,"v":-2},{"t":958,"v":-7},{"t":963,"v":-9},{"t":968,"v":-5},{"t":973,"v":-8},{"t":978,"v":-12},{"t":983,"v":-6},{"t":988,"v":-4},{"t":993,"v":-9},{"t":998,"v":-18},{"t":1003,"v":-7},{"t":1008,"v":-5},{"t":1013,"v":-19},{"t":1018,"v":-8},{"t":1023,"v":-6},{"t":1028,"v":-14},{"t":1033,"v":-10},{"t":1038,"v":-4},{"t":1043,"v":-7},{"t":1048,"v":-9},{"t":1053,"v":-5},{"t":1058,"v":-11},{"t":1063,"v":-6},{"t":1068,"v":-8},{"t":1073,"v":-3},{"t":1078,"v":-7},{"t":1083,"v":-10},{"t":1088,"v":-5},{"t":1093,"v":-8},{"t":1098,"v":-6},{"t":1103,"v":-9},{"t":1108,"v":-4},{"t":1113,"v":-7},{"t":1118,"v":-3},{"t":1123,"v":-6},{"t":1128,"v":-2},{"t":1133,"v":-5},{"t":1138,"v":-1},{"t":1143,"v":0},{"t":1148,"v":-4},{"t":1153,"v":-2},{"t":1158,"v":-6},{"t":1163,"v":-3},{"t":1168,"v":-9},{"t":1173,"v":-5},{"t":1178,"v":-2},{"t":1183,"v":-4},
{"t":1800,"v":-5},{"t":1805,"v":-9},{"t":1810,"v":-3},{"t":1815,"v":-7},{"t":1820,"v":-11},{"t":1825,"v":-6},{"t":1828,"v":-23},{"t":1832,"v":-17},{"t":1836,"v":-4},{"t":1840,"v":-8},{"t":1845,"v":-12},{"t":1850,"v":-18},{"t":1855,"v":-6},{"t":1860,"v":0},{"t":1863,"v":-14},{"t":1867,"v":-9},{"t":1872,"v":-5},{"t":1877,"v":-11},{"t":1882,"v":-7},{"t":1887,"v":-3},{"t":1890,"v":-15},{"t":1895,"v":-8},{"t":1899,"v":-25},{"t":1904,"v":-6},{"t":1909,"v":-10},{"t":1914,"v":-4},{"t":1919,"v":-8},{"t":1921,"v":-2},{"t":1925,"v":-12},{"t":1930,"v":-7},{"t":1934,"v":-21},{"t":1938,"v":-5},{"t":1943,"v":-9},{"t":1948,"v":-6},{"t":1950,"v":-29},{"t":1956,"v":-22},{"t":1960,"v":-8},{"t":1965,"v":-4},{"t":1970,"v":-10},{"t":1975,"v":-6},{"t":1980,"v":-9},{"t":1985,"v":-5},{"t":1990,"v":-7},{"t":1995,"v":-11},{"t":2001,"v":-30},{"t":2005,"v":-6},{"t":2010,"v":-8},{"t":2015,"v":-4},{"t":2020,"v":-9},{"t":2025,"v":-6},{"t":2030,"v":-12},{"t":2035,"v":-5},{"t":2040,"v":-8},{"t":2045,"v":-10},{"t":2049,"v":-22},{"t":2054,"v":-7},{"t":2060,"v":-26},{"t":2065,"v":-9},{"t":2071,"v":-24},{"t":2075,"v":-5},{"t":2080,"v":-11},{"t":2085,"v":-7},{"t":2090,"v":-4},{"t":2095,"v":-13},{"t":2100,"v":-8},{"t":2105,"v":-6},{"t":2111,"v":-1},{"t":2115,"v":-19},{"t":2120,"v":-9},{"t":2125,"v":-5},{"t":2130,"v":-11},{"t":2137,"v":-1},{"t":2140,"v":-7},{"t":2144,"v":-27},{"t":2148,"v":-4},{"t":2153,"v":-9},{"t":2158,"v":-6},{"t":2163,"v":-10},{"t":2168,"v":-5},{"t":2173,"v":-8},{"t":2178,"v":-12},{"t":2183,"v":-6},{"t":2188,"v":-3},{"t":2193,"v":-9},{"t":2198,"v":-7},{"t":2203,"v":-4},{"t":2208,"v":-10},{"t":2213,"v":-6},{"t":2218,"v":-8},{"t":2223,"v":-3},{"t":2226,"v":-16},{"t":2231,"v":-7},{"t":2236,"v":-10},{"t":2241,"v":-5},{"t":2246,"v":-12},{"t":2251,"v":-8},{"t":2256,"v":-4},{"t":2261,"v":-9},{"t":2265,"v":-16},{"t":2270,"v":-6},{"t":2275,"v":-11},{"t":2280,"v":-3},{"t":2285,"v":-8},{"t":2290,"v":-12},{"t":2295,"v":-5},{"t":2300,"v":-10},{"t":2305,"v":-7},{"t":2310,"v":-4},{"t":2314,"v":-14},{"t":2319,"v":-9},{"t":2324,"v":-6},{"t":2329,"v":-11},{"t":2334,"v":-3},{"t":2339,"v":-8},{"t":2344,"v":-5},{"t":2349,"v":-10},{"t":2354,"v":-7},{"t":2359,"v":-4},{"t":2364,"v":-9},{"t":2369,"v":-2},{"t":2374,"v":-6},{"t":2379,"v":-10},{"t":2384,"v":-5},{"t":2389,"v":-8},{"t":2394,"v":-4}
]
},
"bounds": "flush",
"columns": 2,
"spacing": {"row": 55.3, "column": 53},
"concat": [
{"width": 422, "height": 202, "layer": [
 {"data": {"name": "a"}, "mark": {"type": "circle", "size": 31, "color": "black", "opacity": 1},
  "encoding": {
   "x": {"field": "t", "type": "quantitative", "title": "Time (sec)", "scale": {"domain": [-800, 3206], "nice": false, "zero": false}, "axis": {"values": [-600,-300,0,300,600,900,1200,1500,1800,2100,2400,2700,3000], "tickCount": 60, "labelOverlap": false, "format": "d", "title": "Time (sec)", "labelFontSize": 9, "labelPadding": 8, "titleFontSize": 16, "titlePadding": 8, "domainWidth": 1.5}},
   "y": {"field": "v", "type": "quantitative", "title": "EPSC (pA)", "scale": {"domain": [-60, 81.75], "nice": false, "zero": false}, "axis": {"values": [-60,-40,-20,0,20,40,60], "tickCount": 60, "labelOverlap": false, "format": "d", "domain": false, "title": "EPSC (pA)", "titleFontSize": 16, "titleX": -34, "titleY": 116, "titleBaseline": "middle", "titleAlign": "center", "titleAngle": -90, "labelFontSize": 9, "labelPadding": 7}}}},
 {"data": {"values": [{}]}, "mark": {"type": "rule", "color": "black", "strokeWidth": 1.5}, "encoding": {"x": {"datum": -800}, "y": {"datum": -60}, "y2": {"datum": 60}}},
 {"data": {"name": "ta"}, "mark": {"type": "line", "color": "black", "strokeWidth": 1.2}, "encoding": {"x": {"field": "t", "type": "quantitative"}, "y": {"field": "v", "type": "quantitative"}, "order": {"field": "i"}}},
 {"data": {"values": [{}]}, "mark": {"type": "rule", "color": "black", "strokeWidth": 1.5, "strokeDash": [18, 9]}, "encoding": {"x": {"datum": -315}, "x2": {"datum": 3007}, "y": {"datum": 8}}},
 {"data": {"values": [{}]}, "mark": {"type": "rule", "color": "black", "strokeWidth": 1.5, "strokeDash": [18, 9]}, "encoding": {"x": {"datum": -594}, "x2": {"datum": 3007}, "y": {"datum": -8}}},
 {"data": {"values": [{}]}, "mark": {"type": "rule", "color": "black", "strokeWidth": 6, "strokeCap": "round"}, "encoding": {"x": {"datum": 8}, "x2": {"datum": 290}, "y": {"datum": -50}}},
 {"data": {"values": [{}]}, "mark": {"type": "text", "fontSize": 9, "color": "#222", "text": "+60 mV"}, "encoding": {"x": {"datum": -468}, "y": {"datum": 87.6}}},
 {"data": {"values": [{}]}, "mark": {"type": "text", "fontSize": 9, "color": "#222", "text": "-70 mV"}, "encoding": {"x": {"datum": -119}, "y": {"datum": 59.1}}},
 {"data": {"values": [{}]}, "mark": {"type": "text", "fontSize": 9, "color": "#222", "text": "-10 mV"}, "encoding": {"x": {"datum": 140}, "y": {"datum": 79.4}}},
 {"data": {"values": [{}]}, "mark": {"type": "text", "fontSize": 9, "color": "#222", "text": "-70 mV"}, "encoding": {"x": {"datum": 529}, "y": {"datum": 59.1}}},
 {"data": {"values": [{}]}, "mark": {"type": "text", "fontSize": 12, "color": "#333", "text": "Noise"}, "encoding": {"x": {"datum": 966}, "y": {"datum": 0}}},
 {"data": {"values": [{}]}, "mark": {"type": "text", "fontSize": 12, "color": "#222", "text": "Paired"}, "encoding": {"x": {"datum": 171}, "y": {"datum": -80.2}}},
 {"data": {"values": [{}]}, "mark": {"type": "text", "fontSize": 8.5, "color": "#666", "text": "50 Hz x 300"}, "encoding": {"x": {"datum": 171}, "y": {"datum": -87.8}}},
 {"data": {"values": [{}]}, "mark": {"type": "text", "fontSize": 22, "fontWeight": "bold", "color": "black", "text": "A"}, "encoding": {"x": {"datum": -1104}, "y": {"datum": 86}}}
]},
{"width": 164, "height": 204, "data": {"name": "b"}, "layer": [
 {"transform": [{"filter": "datum.g == 'cell'"}], "mark": {"type": "line", "color": "#333", "strokeWidth": 1},
  "encoding": {
   "x": {"field": "k", "type": "ordinal", "title": "50 Hz x300", "scale": {"type": "point", "domain": ["Before", "After"], "padding": 0.5}, "axis": {"title": "50 Hz x300", "labelAngle": 0, "labelFontSize": 9, "labelColor": "#444", "labelPadding": 4, "titleFontSize": 9, "titlePadding": 2, "domainWidth": 1.5}},
   "y": {"field": "v", "type": "quantitative", "title": "Failure Rate (%) at -70 mV", "scale": {"domain": [-20, 120], "nice": false, "zero": false}, "axis": {"values": [-20,0,20,40,60,80,100,120], "tickCount": 60, "labelOverlap": false, "title": "Failure Rate (%) at -70 mV", "labelFontSize": 6, "labelColor": "#777", "labelPadding": 7, "titleFontSize": 11, "titleX": -25, "titleBaseline": "middle", "titleAlign": "center", "titleAngle": -90, "domainWidth": 1.5}},
   "detail": {"field": "c"}}},
 {"transform": [{"filter": "datum.g == 'cell'"}], "mark": {"type": "circle", "size": 26, "color": "black", "opacity": 1}, "encoding": {"x": {"field": "k", "type": "ordinal"}, "y": {"field": "v", "type": "quantitative"}}},
 {"transform": [{"filter": "datum.g == 'mean'"}], "mark": {"type": "line", "color": "black", "strokeWidth": 2.2}, "encoding": {"x": {"field": "k", "type": "ordinal"}, "y": {"field": "v", "type": "quantitative"}}},
 {"transform": [{"filter": "datum.g == 'mean'"}], "mark": {"type": "circle", "size": 60, "color": "black", "opacity": 1}, "encoding": {"x": {"field": "k", "type": "ordinal"}, "y": {"field": "v", "type": "quantitative"}}},
 {"data": {"values": [{}]}, "mark": {"type": "text", "fontSize": 18, "color": "#333", "dx": 4, "text": "n=6"}, "encoding": {"x": {"datum": "Before", "type": "ordinal"}, "y": {"datum": 114.3}}},
 {"data": {"values": [{}]}, "mark": {"type": "text", "fontSize": 22, "fontWeight": "bold", "color": "black", "dx": -81, "text": "B"}, "encoding": {"x": {"datum": "Before", "type": "ordinal"}, "y": {"datum": 124.1}}}
]},
{"width": 417, "height": 212, "layer": [
 {"data": {"name": "c"}, "mark": {"type": "circle", "size": 31, "color": "black", "opacity": 1},
  "encoding": {
   "x": {"field": "t", "type": "quantitative", "title": "Time (sec)", "scale": {"domain": [-693, 2216], "nice": false, "zero": false}, "axis": {"values": [-600,-300,0,300,600,900,1200,1500,1800,2100], "tickCount": 60, "labelOverlap": false, "format": "d", "title": "Time (sec)", "labelFontSize": 9.5, "labelPadding": 8, "titleFontSize": 16, "titlePadding": 6, "domainWidth": 1.5}},
   "y": {"field": "v", "type": "quantitative", "title": "EPSC (pA)", "scale": {"domain": [-60, 193.9], "nice": false, "zero": false}, "axis": {"values": [-60,-40,-20,0,20,40,60,80,100,120,140], "tickCount": 60, "labelOverlap": false, "format": "d", "domain": false, "title": "EPSC (pA)", "titleFontSize": 16, "titleX": -35, "titleY": 133, "titleBaseline": "middle", "titleAlign": "center", "titleAngle": -90, "labelFontSize": 9.5, "labelPadding": 5}}}},
 {"data": {"values": [{}]}, "mark": {"type": "rule", "color": "black", "strokeWidth": 1.5}, "encoding": {"x": {"datum": -693}, "y": {"datum": -60}, "y2": {"datum": 140}}},
 {"data": {"name": "tc"}, "mark": {"type": "line", "color": "black", "strokeWidth": 1.2}, "encoding": {"x": {"field": "t", "type": "quantitative"}, "y": {"field": "v", "type": "quantitative"}, "order": {"field": "i"}}},
 {"data": {"values": [{}]}, "mark": {"type": "rule", "color": "black", "strokeWidth": 1.5, "strokeDash": [18, 9]}, "encoding": {"x": {"datum": -358}, "x2": {"datum": 2132}, "y": {"datum": 17}}},
 {"data": {"values": [{}]}, "mark": {"type": "rule", "color": "black", "strokeWidth": 1.5, "strokeDash": [18, 9]}, "encoding": {"x": {"datum": -602}, "x2": {"datum": 2132}, "y": {"datum": -10}}},
 {"data": {"values": [{}]}, "mark": {"type": "rule", "color": "black", "strokeWidth": 6, "strokeCap": "round"}, "encoding": {"x": {"datum": 14}, "x2": {"datum": 300}, "y": {"datum": -40}}},
 {"data": {"values": [{}]}, "mark": {"type": "text", "fontSize": 10.5, "color": "#222", "text": "+60 mV"}, "encoding": {"x": {"datum": -449}, "y": {"datum": 191}}},
 {"data": {"values": [{}]}, "mark": {"type": "text", "fontSize": 10.5, "color": "#222", "text": "-10 mV"}, "encoding": {"x": {"datum": 123}, "y": {"datum": 177.5}}},
 {"data": {"values": [{}]}, "mark": {"type": "text", "fontSize": 10.5, "color": "#222", "text": "-70 mV"}, "encoding": {"x": {"datum": -147}, "y": {"datum": 135.6}}},
 {"data": {"values": [{}]}, "mark": {"type": "text", "fontSize": 10.5, "color": "#222", "text": "-70 mV"}, "encoding": {"x": {"datum": 514}, "y": {"datum": 133.2}}},
 {"data": {"values": [{}]}, "mark": {"type": "text", "fontSize": 10, "color": "#333", "text": "Noise"}, "encoding": {"x": {"datum": 570}, "y": {"datum": 5}}},
 {"data": {"values": [{}]}, "mark": {"type": "text", "fontSize": 11, "color": "#222", "text": "Paired"}, "encoding": {"x": {"datum": 163}, "y": {"datum": -91.4}}},
 {"data": {"values": [{}]}, "mark": {"type": "text", "fontSize": 8.5, "color": "#666", "text": "1 Hz x 300"}, "encoding": {"x": {"datum": 163}, "y": {"datum": -102.8}}},
 {"data": {"values": [{}]}, "mark": {"type": "text", "fontSize": 22, "fontWeight": "bold", "color": "black", "text": "C"}, "encoding": {"x": {"datum": -916}, "y": {"datum": 193}}}
]},
{"width": 164, "height": 212, "data": {"name": "d"}, "layer": [
 {"transform": [{"filter": "datum.g == 'cell'"}], "mark": {"type": "line", "color": "#333", "strokeWidth": 1},
  "encoding": {
   "x": {"field": "k", "type": "ordinal", "title": "10 Hz x100 or x300", "scale": {"type": "point", "domain": ["_L", "Before", "_M", "After", "_R"], "padding": 0}, "axis": {"values": ["Before", "After"], "title": "10 Hz x100 or x300", "labelAngle": 0, "labelFontSize": 9, "labelColor": "#444", "labelPadding": 4, "titleFontSize": 9.5, "titlePadding": 2, "domainWidth": 1.5}},
   "y": {"field": "v", "type": "quantitative", "title": "Failure Rate (%) at -70 mV", "scale": {"domain": [-20, 126.2], "nice": false, "zero": false}, "axis": {"values": [-20,0,20,40,60,80,100,120], "tickCount": 60, "labelOverlap": false, "domain": false, "title": "Failure Rate (%) at -70 mV", "labelFontSize": 6, "labelColor": "#777", "labelPadding": 7, "titleFontSize": 11, "titleX": -24, "titleY": 110, "titleBaseline": "middle", "titleAlign": "center", "titleAngle": -90}},
   "detail": {"field": "c"}}},
 {"data": {"values": [{}]}, "mark": {"type": "rule", "color": "black", "strokeWidth": 1.5}, "encoding": {"x": {"datum": "_L", "type": "ordinal"}, "y": {"datum": -20}, "y2": {"datum": 120}}},
 {"transform": [{"filter": "datum.g == 'cell'"}], "mark": {"type": "circle", "size": 26, "color": "black", "opacity": 1}, "encoding": {"x": {"field": "k", "type": "ordinal"}, "y": {"field": "v", "type": "quantitative"}}},
 {"transform": [{"filter": "datum.g == 'mean'"}], "mark": {"type": "line", "color": "black", "strokeWidth": 2.2}, "encoding": {"x": {"field": "k", "type": "ordinal"}, "y": {"field": "v", "type": "quantitative"}}},
 {"transform": [{"filter": "datum.g == 'mean'"}], "mark": {"type": "circle", "size": 60, "color": "black", "opacity": 1}, "encoding": {"x": {"field": "k", "type": "ordinal"}, "y": {"field": "v", "type": "quantitative"}}},
 {"data": {"values": [{}]}, "mark": {"type": "text", "fontSize": 18, "color": "#333", "dx": 5, "text": "n=6"}, "encoding": {"x": {"datum": "Before", "type": "ordinal"}, "y": {"datum": 111.9}}},
 {"data": {"values": [{}]}, "mark": {"type": "text", "fontSize": 22, "fontWeight": "bold", "color": "black", "dx": -80, "text": "D"}, "encoding": {"x": {"datum": "Before", "type": "ordinal"}, "y": {"datum": 124.3}}}
]},
{"width": 418, "height": 200, "layer": [
 {"data": {"name": "e"}, "mark": {"type": "circle", "size": 28, "color": "black", "opacity": 1},
  "encoding": {
   "x": {"field": "t", "type": "quantitative", "title": "Time (sec)", "scale": {"type": "linear", "domain": [-700, 400, 600, 1200, 1800, 2400], "range": [2, 204.7, 223, 314, 327.4, 418], "nice": false, "zero": false}, "axis": {"values": [-600,-400,-200,0,200,400,750,1000,2000,2250], "tickCount": 60, "labelOverlap": false, "format": "d", "domain": false, "title": "Time (sec)", "titleX": 218, "labelFontSize": 9, "labelPadding": 9, "titleFontSize": 16, "titlePadding": 3}},
   "y": {"field": "v", "type": "quantitative", "title": "EPSC (pA)", "scale": {"domain": [-40, 49.3], "nice": false, "zero": false}, "axis": {"values": [-40,-30,-20,-10,0,10,20,30], "tickCount": 60, "labelOverlap": false, "format": "d", "domain": false, "title": "EPSC (pA)", "titleFontSize": 16, "titleX": -28, "titleY": 121.6, "titleBaseline": "middle", "titleAlign": "center", "titleAngle": -90, "labelFontSize": 9, "labelPadding": 4}}}},
 {"data": {"values": [{}]}, "mark": {"type": "rule", "color": "black", "strokeWidth": 1.5}, "encoding": {"x": {"datum": -700}, "y": {"datum": -40}, "y2": {"datum": 30}}},
 {"data": {"values": [{}]}, "mark": {"type": "rule", "color": "black", "strokeWidth": 1.5}, "encoding": {"x": {"datum": -700}, "x2": {"datum": 400}, "y": {"datum": -40}}},
 {"data": {"values": [{}]}, "mark": {"type": "rule", "color": "black", "strokeWidth": 1.5}, "encoding": {"x": {"datum": 600}, "x2": {"datum": 1200}, "y": {"datum": -40}}},
 {"data": {"values": [{}]}, "mark": {"type": "rule", "color": "black", "strokeWidth": 1.5}, "encoding": {"x": {"datum": 1800}, "x2": {"datum": 2400}, "y": {"datum": -40}}},
 {"data": {"values": [{}]}, "mark": {"type": "text", "fontSize": 10, "text": "/"}, "encoding": {"x": {"datum": 400}, "y": {"datum": -39.5}}},
 {"data": {"values": [{}]}, "mark": {"type": "text", "fontSize": 10, "text": "/"}, "encoding": {"x": {"datum": 600}, "y": {"datum": -39.5}}},
 {"data": {"values": [{}]}, "mark": {"type": "text", "fontSize": 10, "text": "/"}, "encoding": {"x": {"datum": 1200}, "y": {"datum": -39.5}}},
 {"data": {"values": [{}]}, "mark": {"type": "text", "fontSize": 10, "text": "/"}, "encoding": {"x": {"datum": 1800}, "y": {"datum": -39.5}}},
 {"data": {"name": "te"}, "mark": {"type": "line", "color": "black", "strokeWidth": 1.2}, "encoding": {"x": {"field": "t", "type": "quantitative"}, "y": {"field": "v", "type": "quantitative"}, "order": {"field": "i"}}},
 {"data": {"values": [{}]}, "mark": {"type": "rule", "color": "black", "strokeWidth": 1.5, "strokeDash": [18, 9]}, "encoding": {"x": {"datum": -602}, "x2": {"datum": 2389}, "y": {"datum": 4.6}}},
 {"data": {"values": [{}]}, "mark": {"type": "rule", "color": "black", "strokeWidth": 1.5, "strokeDash": [18, 9]}, "encoding": {"x": {"datum": -602}, "x2": {"datum": 2389}, "y": {"datum": -4.6}}},
 {"data": {"values": [{}]}, "mark": {"type": "rule", "color": "black", "strokeWidth": 4.5}, "encoding": {"x": {"datum": 0}, "x2": {"datum": 610}, "y": {"datum": 27.7}}},
 {"data": {"values": [{}]}, "mark": {"type": "text", "fontSize": 10, "color": "#222", "text": "+60 mV"}, "encoding": {"x": {"datum": -456}, "y": {"datum": 39.3}}},
 {"data": {"values": [{}]}, "mark": {"type": "text", "fontSize": 10, "color": "#222", "text": "-70 mV"}, "encoding": {"x": {"datum": -136}, "y": {"datum": 35.8}}},
 {"data": {"values": [{}]}, "mark": {"type": "text", "fontSize": 12.5, "color": "#222", "text": "Glycine (200 µM)"}, "encoding": {"x": {"datum": 270}, "y": {"datum": 21}}},
 {"data": {"values": [{}]}, "mark": {"type": "text", "fontSize": 9, "color": "#333", "text": "Noise"}, "encoding": {"x": {"datum": 49}, "y": {"datum": 2}}},
 {"data": {"values": [{}]}, "mark": {"type": "text", "fontSize": 22, "fontWeight": "bold", "color": "black", "text": "E"}, "encoding": {"x": {"datum": -890}, "y": {"datum": 43.3}}}
]},
{"width": 164, "height": 202, "data": {"name": "f"}, "layer": [
 {"transform": [{"filter": "datum.g == 'cell'"}], "mark": {"type": "line", "color": "#333", "strokeWidth": 1},
  "encoding": {
   "x": {"field": "k", "type": "ordinal", "title": "Glycine (200 µM)", "scale": {"type": "point", "domain": ["Before", "After"], "padding": 0.5}, "axis": {"title": "Glycine (200 µM)", "labelAngle": 0, "labelFontSize": 9, "labelColor": "#444", "labelPadding": 3, "titleFontSize": 9.5, "titlePadding": 2, "domainWidth": 1.5}},
   "y": {"field": "v", "type": "quantitative", "title": "Failure Rate (%) at -70 mV", "scale": {"domain": [-20, 120], "nice": false, "zero": false}, "axis": {"values": [-20,0,20,40,60,80,100,120], "tickCount": 60, "labelOverlap": false, "title": "Failure Rate (%) at -70 mV", "labelFontSize": 6, "labelColor": "#777", "labelPadding": 6, "titleFontSize": 11, "titleX": -25, "titleBaseline": "middle", "titleAlign": "center", "titleAngle": -90, "domainWidth": 1.5}},
   "detail": {"field": "c"}}},
 {"transform": [{"filter": "datum.g == 'cell'"}], "mark": {"type": "circle", "size": 26, "color": "black", "opacity": 1}, "encoding": {"x": {"field": "k", "type": "ordinal"}, "y": {"field": "v", "type": "quantitative"}}},
 {"transform": [{"filter": "datum.g == 'mean'"}], "mark": {"type": "line", "color": "black", "strokeWidth": 2.2}, "encoding": {"x": {"field": "k", "type": "ordinal"}, "y": {"field": "v", "type": "quantitative"}}},
 {"transform": [{"filter": "datum.g == 'mean'"}], "mark": {"type": "circle", "size": 60, "color": "black", "opacity": 1}, "encoding": {"x": {"field": "k", "type": "ordinal"}, "y": {"field": "v", "type": "quantitative"}}},
 {"data": {"values": [{}]}, "mark": {"type": "text", "fontSize": 18, "color": "#333", "dx": 4, "text": "n=4"}, "encoding": {"x": {"datum": "Before", "type": "ordinal"}, "y": {"datum": 113.8}}},
 {"data": {"values": [{}]}, "mark": {"type": "text", "fontSize": 22, "fontWeight": "bold", "color": "black", "dx": -83, "text": "F"}, "encoding": {"x": {"datum": "Before", "type": "ordinal"}, "y": {"datum": 110.8}}}
]}
]
}
